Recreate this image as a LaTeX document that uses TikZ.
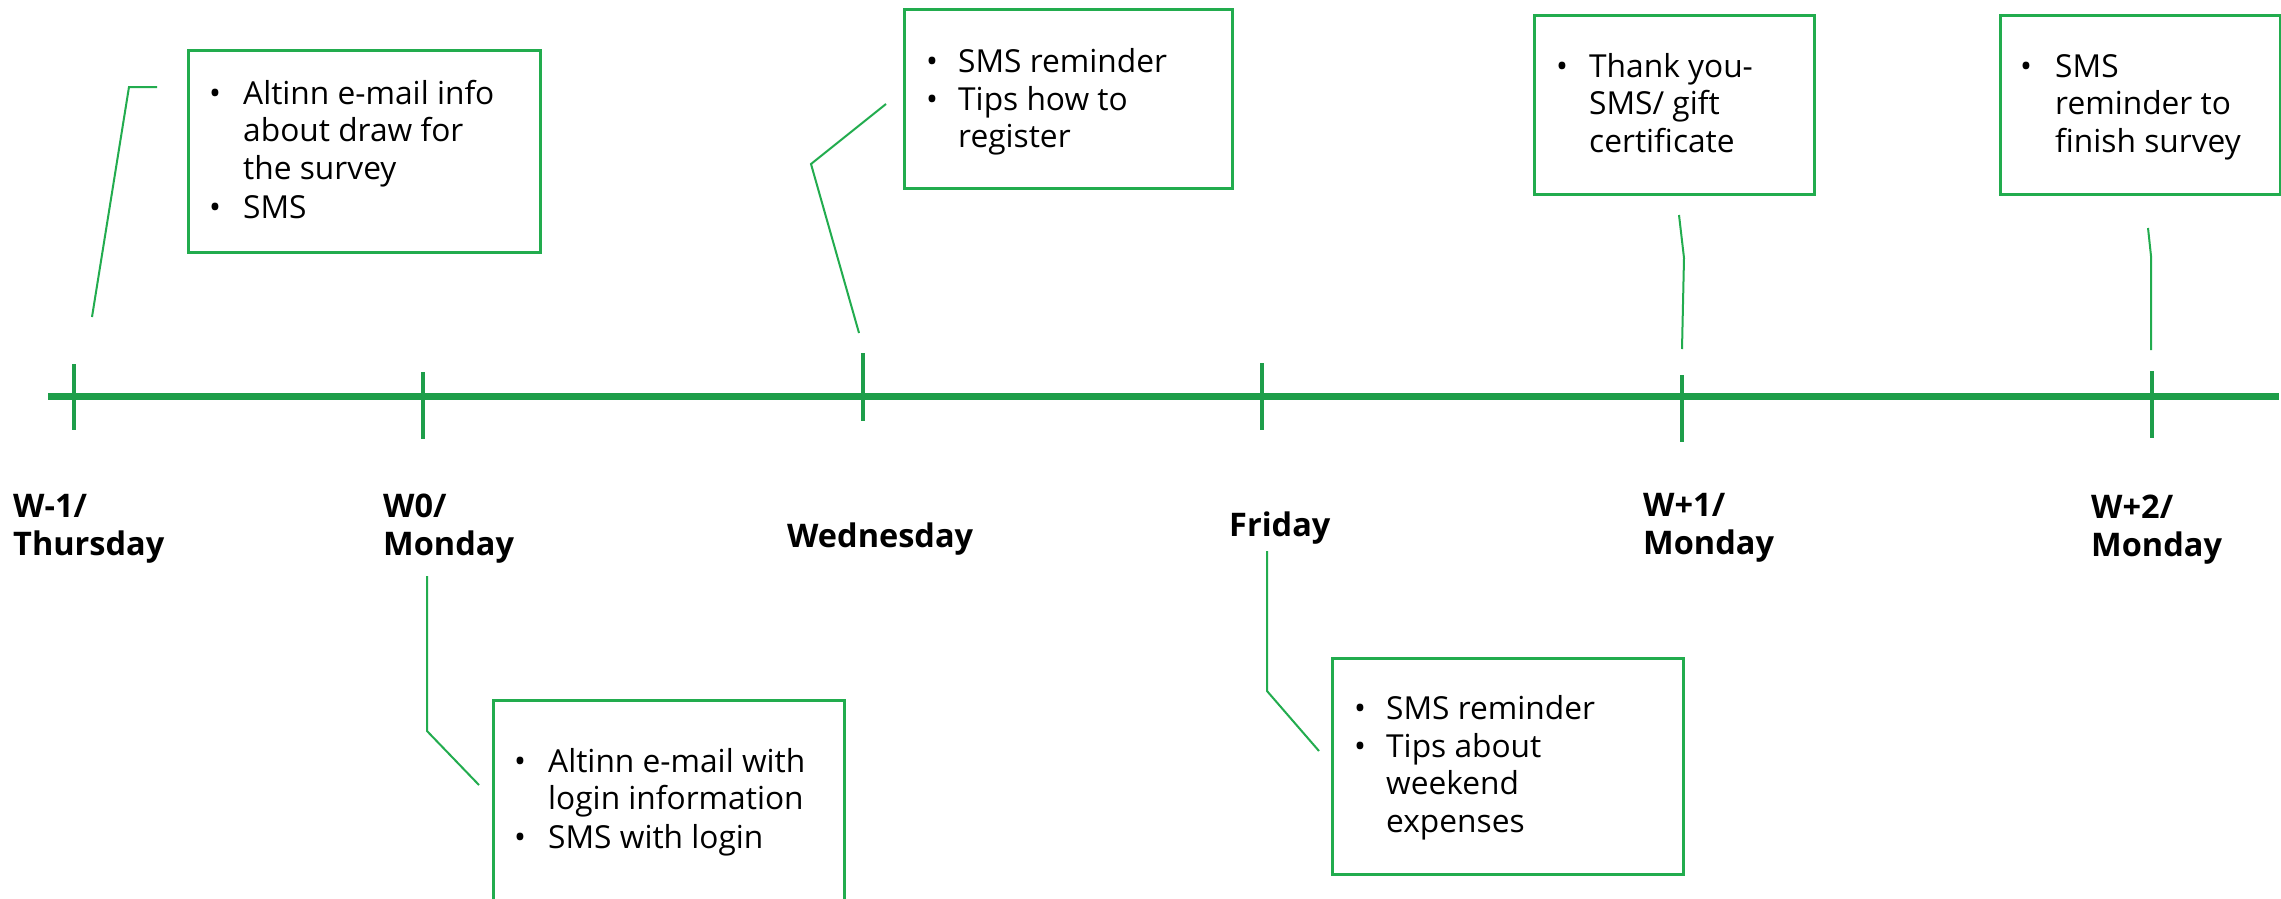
\documentclass[tikz,border=0pt]{standalone}
\usepackage{fontspec}
\setmainfont{Open Sans}
\definecolor{tlgreen}{RGB}{30,158,74}
\definecolor{bxgreen}{RGB}{34,172,78}
\newcommand{\lns}[1]{\parbox[t]{400pt}{\raggedright #1}}
\tikzset{
  card/.style={draw=bxgreen, line width=2.8pt, anchor=north west, inner sep=0pt},
  leader/.style={draw=bxgreen, line width=2pt},
  tickmark/.style={draw=tlgreen, line width=3.5pt},
  bul/.style={anchor=base west, inner sep=0pt, font=\fontsize{31.7}{37.7}\selectfont},
  itm/.style={anchor=base west, inner sep=0pt, font=\fontsize{31.7}{37.7}\selectfont},
  daylbl/.style={anchor=base west, inner sep=0pt, font=\fontsize{32.5}{38}\selectfont\bfseries},
}
\begin{document}
\begin{tikzpicture}[x=1pt,y=-1pt]
\useasboundingbox (0,0) rectangle (2281,898);
\clip (0,0) rectangle (2281,898);
\fill[white] (0,0) rectangle (2281,898);

% timeline
\coordinate (tlA) at (48,396.5);
\coordinate (tlB) at (2279,396.5);
\draw[draw=tlgreen, line width=7pt] (tlA) -- (tlB);

% ticks
\coordinate (t1a) at (74,364);   \coordinate (t1b) at (74,430);
\coordinate (t2a) at (423,372);  \coordinate (t2b) at (423,439);
\coordinate (t3a) at (863,353);  \coordinate (t3b) at (863,421);
\coordinate (t4a) at (1262,363); \coordinate (t4b) at (1262,430);
\coordinate (t5a) at (1682,375); \coordinate (t5b) at (1682,442);
\coordinate (t6a) at (2152,371); \coordinate (t6b) at (2152,438);
\draw[tickmark] (t1a) -- (t1b);
\draw[tickmark] (t2a) -- (t2b);
\draw[tickmark] (t3a) -- (t3b);
\draw[tickmark] (t4a) -- (t4b);
\draw[tickmark] (t5a) -- (t5b);
\draw[tickmark] (t6a) -- (t6b);

% day labels
\node[daylbl] (d1) at (13,517) {\lns{W-1/\\Thursday}};
\node[daylbl] (d2) at (383,517) {\lns{W0/\\Monday}};
\node[daylbl] (d3) at (787,547) {\lns{Wednesday}};
\node[daylbl] (d4) at (1229,536) {\lns{Friday}};
\node[daylbl] (d5) at (1643,516) {\lns{W+1/\\Monday}};
\node[daylbl] (d6) at (2091,518) {\lns{W+2/\\Monday}};

% boxes
\node[card, minimum width=352pt, minimum height=202pt] (box1) at (187,49) {};
\node[card, minimum width=351pt, minimum height=260pt] (box2) at (492,699) {};
\node[card, minimum width=328pt, minimum height=179pt] (box3) at (903,8) {};
\node[card, minimum width=351pt, minimum height=216pt] (box4) at (1331,657) {};
\node[card, minimum width=280pt, minimum height=179pt] (box5) at (1533,14) {};
\node[card, minimum width=280pt, minimum height=179pt] (box6) at (1999,14) {};

% box 1 text
\node[bul] (b1u1) at (209,104) {•};
\node[itm] (b1i1) at (243,104) {\lns{Altinn e-mail info\\about draw for\\the survey}};
\node[bul] (b1u2) at (209,218) {•};
\node[itm] (b1i2) at (243,218) {\lns{SMS}};

% box 2 text
\node[bul] (b2u1) at (514,772) {•};
\node[itm] (b2i1) at (548,772) {\lns{Altinn e-mail with\\login information}};
\node[bul] (b2u2) at (514,848) {•};
\node[itm] (b2i2) at (548,848) {\lns{SMS with login}};

% box 3 text
\node[bul] (b3u1) at (926,72) {•};
\node[itm] (b3i1) at (958,72) {\lns{SMS reminder}};
\node[bul] (b3u2) at (926,110) {•};
\node[itm] (b3i2) at (958,110) {\lns{Tips how to\\register}};

% box 4 text
\node[bul] (b4u1) at (1354,719) {•};
\node[itm] (b4i1) at (1386,719) {\lns{SMS reminder}};
\node[bul] (b4u2) at (1354,757) {•};
\node[itm] (b4i2) at (1386,757) {\lns{Tips about\\weekend\\expenses}};

% box 5 text
\node[bul] (b5u1) at (1556,77) {•};
\node[itm] (b5i1) at (1589,77) {\lns{Thank you-\\SMS/ gift\\certificate}};

% box 6 text
\node[bul] (b6u1) at (2020,77) {•};
\node[itm] (b6i1) at (2055,77) {\lns{SMS\\reminder to\\finish survey}};

% leader lines
\coordinate (c1a) at (92,317);   \coordinate (c1b) at (129,87);   \coordinate (c1c) at (157,87);
\coordinate (c2a) at (427,576);  \coordinate (c2b) at (427,731);  \coordinate (c2c) at (479,785);
\coordinate (c3a) at (859,333);  \coordinate (c3b) at (811,164);  \coordinate (c3c) at (886,104);
\coordinate (c4a) at (1267,551); \coordinate (c4b) at (1267,691); \coordinate (c4c) at (1319,751);
\coordinate (c5a) at (1682,349); \coordinate (c5b) at (1684,258); \coordinate (c5c) at (1679,215);
\coordinate (c6a) at (2151,350); \coordinate (c6b) at (2151,256); \coordinate (c6c) at (2148,228);
\draw[leader] (c1a) -- (c1b) -- (c1c);
\draw[leader] (c2a) -- (c2b) -- (c2c);
\draw[leader] (c3a) -- (c3b) -- (c3c);
\draw[leader] (c4a) -- (c4b) -- (c4c);
\draw[leader] (c5a) -- (c5b) -- (c5c);
\draw[leader] (c6a) -- (c6b) -- (c6c);
\end{tikzpicture}
\end{document}
